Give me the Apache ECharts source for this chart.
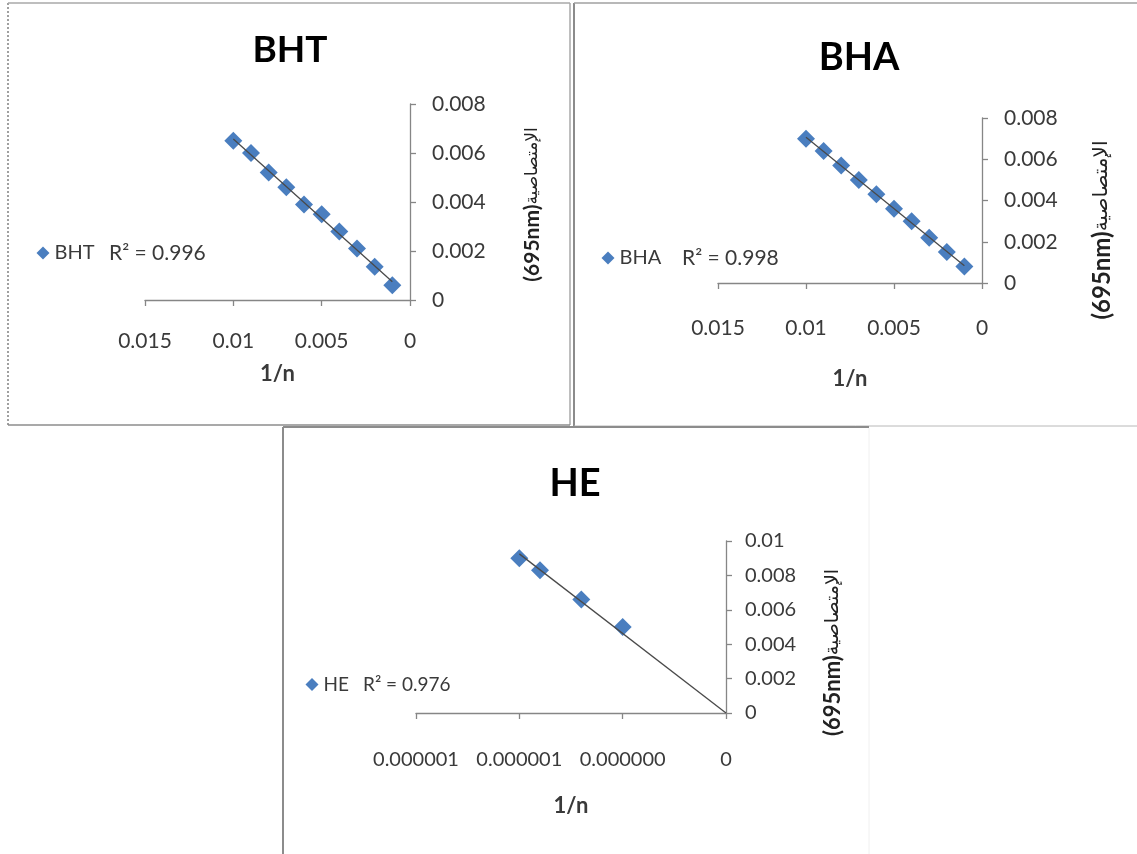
<!DOCTYPE html>
<html><head><meta charset="utf-8">
<script src="https://cdn.jsdelivr.net/npm/echarts@6/dist/echarts.min.js"></script>
<style>html,body{margin:0;padding:0;background:#fff}#c{width:1137px;height:854px}</style>
</head><body><div id="c"></div>
<script>
// ---- data ----
const bhtX = [0.010, 0.009, 0.008, 0.007, 0.006, 0.005, 0.004, 0.003, 0.002, 0.001];
const bhtY = [0.0065, 0.0060, 0.0052, 0.0046, 0.0039, 0.0035, 0.0028, 0.0021, 0.00136, 0.0006];
const bhaX = [0.010, 0.009, 0.008, 0.007, 0.006, 0.005, 0.004, 0.003, 0.002, 0.001];
const bhaY = [0.0070, 0.0064, 0.0057, 0.0050, 0.0043, 0.0036, 0.0030, 0.0022, 0.0015, 0.0008];
const heX = [0.0000010, 0.0000009, 0.0000007, 0.0000005];
const heY = [0.0090, 0.0083, 0.0066, 0.0050];

// tick labels, indexed by value / interval
const bhtXTicks = ['0', '0.005', '0.01', '0.015'];
const bhtYTicks = ['0', '0.002', '0.004', '0.006', '0.008'];
const bhaXTicks = ['0', '0.005', '0.01', '0.015'];
const bhaYTicks = ['0', '0.002', '0.004', '0.006', '0.008'];
const heXTicks = ['0', '0.000000', '0.000001', '0.000001'];
const heYTicks = ['0', '0.002', '0.004', '0.006', '0.008', '0.01'];

const titles = ['BHT', 'BHA', 'HE'];
const r2Labels = ['R\u00B2 = 0.996', 'R\u00B2 = 0.998', 'R\u00B2 = 0.976'];
const xName = '1/n';
const yNameUnit = '(695nm)';
const yNameWord = '\u0627\u0644\u0625\u0645\u062A\u0635\u0627\u0635\u064A\u0629';

// ---- helpers ----
function trend(xs, ys, throughOrigin) {
  const n = xs.length;
  let sx = 0, sy = 0, sxx = 0, sxy = 0;
  for (let i = 0; i < n; i++) { sx += xs[i]; sy += ys[i]; sxx += xs[i] * xs[i]; sxy += xs[i] * ys[i]; }
  let a, b;
  if (throughOrigin) { a = sxy / sxx; b = 0; }
  else { a = (n * sxy - sx * sy) / (n * sxx - sx * sx); b = (sy - a * sx) / n; }
  const x0 = throughOrigin ? 0 : Math.min.apply(null, xs);
  const x1 = Math.max.apply(null, xs);
  return [[x0, a * x0 + b], [x1, a * x1 + b]];
}
function pairs(xs, ys) { return xs.map((x, i) => [x, ys[i]]); }
function fmt(labels, step) { return v => labels[Math.round(v / step)]; }

const FONT = 'Lato, "Liberation Sans", "DejaVu Sans", sans-serif';
const TXT = '#3a3a3a';
const AX = '#868686';
const BLUE = '#4a7ebf';

const panels = [
  { grid: { left: 145, top: 104, width: 265, height: 196 }, xMax: 0.015, xStep: 0.005, yMax: 0.008, yStep: 0.002,
    xT: bhtXTicks, yT: bhtYTicks, xs: bhtX, ys: bhtY, origin: false, fs: 21, xMargin: 31, yMargin: 22,
    nameGap: 112, nameA: 21, nameB: 17, namePad: [0, 5, 0, 0], xNameGap: 63,
    title: [290, 50, 37], legend: [36.5, 243, 20], r2: [109, 253, 21] },
  { grid: { left: 718, top: 118, width: 264, height: 165 }, xMax: 0.015, xStep: 0.005, yMax: 0.008, yStep: 0.002,
    xT: bhaXTicks, yT: bhaYTicks, xs: bhaX, ys: bhaY, origin: false, fs: 21, xMargin: 35, yMargin: 22,
    nameGap: 108, nameA: 24, nameB: 20, namePad: [0, 59, 0, 0], xNameGap: 85,
    title: [859, 58, 38], legend: [601.5, 248, 20], r2: [682, 258, 21] },
  { grid: { left: 416, top: 541, width: 310, height: 172 }, xMax: 0.0000015, xStep: 0.0000005, yMax: 0.01, yStep: 0.002,
    xT: heXTicks, yT: heYTicks, xs: heX, ys: heY, origin: true, fs: 20, xMargin: 37, yMargin: 19,
    nameGap: 96, nameA: 22, nameB: 19, namePad: [0, 51, 0, 0], xNameGap: 82,
    title: [575, 484, 38], legend: [305.5, 675, 19], r2: [363, 685, 19] }
];

const option = {
  backgroundColor: '#fff',
  animation: false,
  title: [], legend: [], grid: [], xAxis: [], yAxis: [], series: [],
  graphic: []
};

panels.forEach((p, i) => {
  option.grid.push(Object.assign({ outerBoundsMode: 'none', containLabel: false }, p.grid));
  option.xAxis.push({
    type: 'value', gridIndex: i, inverse: true, min: 0, max: p.xMax, interval: p.xStep,
    name: xName, nameLocation: 'middle', nameGap: p.xNameGap,
    nameTextStyle: { fontFamily: FONT, fontSize: 22, fontWeight: 'bold', color: TXT },
    splitLine: { show: false },
    axisLine: { show: true, onZero: false, lineStyle: { color: AX, width: 1.3 } },
    axisTick: { show: true, length: 6, lineStyle: { color: AX, width: 1.3 } },
    axisLabel: { formatter: fmt(p.xT, p.xStep), margin: p.xMargin, fontFamily: FONT, fontSize: p.fs, color: TXT, hideOverlap: false, showMinLabel: true, showMaxLabel: true }
  });
  option.yAxis.push({
    type: 'value', gridIndex: i, position: 'right', min: 0, max: p.yMax, interval: p.yStep,
    name: '{a|' + yNameUnit + '}{b|' + yNameWord + '}', nameLocation: 'middle', nameGap: p.nameGap, nameRotate: 90,
    nameTextStyle: {
      padding: p.namePad, color: '#222',
      rich: {
        a: { fontFamily: FONT, fontSize: p.nameA, fontWeight: 'bold', color: '#222' },
        b: { fontFamily: '"DejaVu Sans", sans-serif', fontSize: p.nameB, fontWeight: 'normal', color: '#222' }
      }
    },
    splitLine: { show: false },
    axisLine: { show: true, lineStyle: { color: AX, width: 1.3 } },
    axisTick: { show: true, length: 6, lineStyle: { color: AX, width: 1.3 } },
    axisLabel: { formatter: fmt(p.yT, p.yStep), margin: p.yMargin, fontFamily: FONT, fontSize: p.fs, color: TXT, showMinLabel: true, showMaxLabel: true }
  });
  option.series.push({
    name: titles[i], type: 'scatter', xAxisIndex: i, yAxisIndex: i,
    data: pairs(p.xs, p.ys), symbol: 'diamond', symbolSize: 18,
    itemStyle: { color: BLUE, opacity: 1 }, z: 2
  });
  option.series.push({
    name: titles[i] + ' trend', type: 'line', xAxisIndex: i, yAxisIndex: i,
    data: trend(p.xs, p.ys, p.origin), symbol: 'none', silent: true,
    lineStyle: { color: '#4a4a4a', width: 1.3 }, z: 3
  });
  option.title.push({
    text: titles[i], left: p.title[0], top: p.title[1], padding: 0,
    textAlign: 'center', textVerticalAlign: 'middle',
    textStyle: { fontFamily: FONT, fontSize: p.title[2], fontWeight: 'bold', color: '#000' }
  });
  option.title.push({
    text: r2Labels[i], left: p.r2[0], top: p.r2[1], padding: 0,
    textAlign: 'left', textVerticalAlign: 'middle',
    textStyle: { fontFamily: FONT, fontSize: p.r2[2], fontWeight: 'normal', color: TXT }
  });
  option.legend.push({
    data: [{ name: titles[i], icon: 'diamond' }], left: p.legend[0], top: p.legend[1], padding: 0,
    itemWidth: 13, itemHeight: 13, itemGap: 5, selectedMode: false,
    textStyle: { fontFamily: FONT, fontSize: p.legend[2], color: TXT }
  });
});

// panel frames
function ln(x1, y1, x2, y2, color, w, dash) {
  return { type: 'line', silent: true, shape: { x1, y1, x2, y2 }, style: { stroke: color, lineWidth: w, lineDash: dash || null } };
}
option.graphic = [
  ln(8, 3, 8, 425, '#a0a0a0', 2, [2, 2]),
  ln(8, 3, 570, 3, '#a8a8a8', 1.5),
  ln(570, 3, 570, 425, '#a8a8a8', 1.5),
  ln(8, 425, 570, 425, '#8c8c8c', 1.5),
  ln(574, 3, 574, 426, '#8c8c8c', 2),
  ln(574, 3, 1137, 3, '#a0a0a0', 1.5),
  ln(574, 426, 1137, 426, '#b8b8b8', 1),
  ln(283, 427, 869, 427, '#8c8c8c', 2),
  ln(283, 427, 283, 854, '#8c8c8c', 2),
  ln(869, 428, 869, 854, '#f0f0f0', 1)
];

const chart = echarts.init(document.getElementById('c'), null, { renderer: 'canvas' });
chart.setOption(option);
</script>
</body></html>
